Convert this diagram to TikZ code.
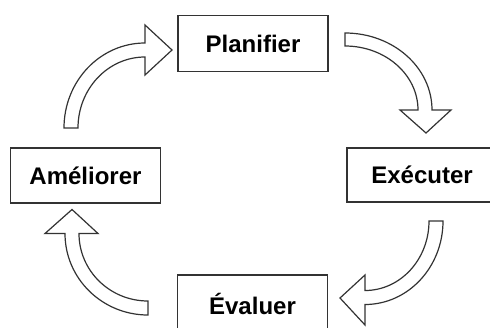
\documentclass[tikz,border=0pt]{standalone}
\usepackage{fontspec}
\setmainfont{Liberation Sans}
\begin{document}
\begin{tikzpicture}[x=1pt,y=-1pt,
  stepbox/.style={draw=black!80, line width=1.6pt, rectangle, inner sep=0pt,
    minimum width=150pt, minimum height=56pt,
    font=\fontsize{24}{28}\selectfont\bfseries},
  barrow/.style={draw=black!80, line width=1.2pt, fill=white, line join=miter}]
\useasboundingbox (0,0) rectangle (490,327);
\begin{scope}
\clip (0,0) rectangle (490,327);
\node[stepbox] (plan) at (253,43.5) {Planifier};
\node[stepbox, minimum height=55pt] (amel) at (85.5,175.5) {Améliorer};
\node[stepbox, minimum height=54pt] (exec) at (422,175) {Exécuter};
\node[stepbox, minimum height=58pt] (eval) at (252.5,304) {Évaluer};
% Améliorer -> Planifier
\draw[barrow] (64,128) arc[start angle=180,end angle=270,x radius=81,y radius=85]
  -- (145,25) -- (172,50) -- (145,75) -- (145,57)
  arc[start angle=270,end angle=180,x radius=67,y radius=71] -- cycle;
% Planifier -> Exécuter
\draw[barrow] (345,33) arc[start angle=270,end angle=360,x radius=87,y radius=77]
  -- (451,110) -- (426,133) -- (400,110) -- (418,110)
  arc[start angle=360,end angle=270,x radius=73,y radius=64] -- cycle;
% Exécuter -> Évaluer
\draw[barrow] (443,221) arc[start angle=0,end angle=90,x radius=78,y radius=83.5]
  -- (365,325) -- (340,298) -- (365,275) -- (365,290.5)
  arc[start angle=90,end angle=0,x radius=64,y radius=69.5] -- cycle;
% Évaluer -> Améliorer
\draw[barrow] (148,315) arc[start angle=90,end angle=180,x radius=83,y radius=81.5]
  -- (45,233.5) -- (72,209.5) -- (98,233.5) -- (79,233.5)
  arc[start angle=180,end angle=90,x radius=69,y radius=67.5] -- cycle;
\end{scope}
\end{tikzpicture}
\end{document}
